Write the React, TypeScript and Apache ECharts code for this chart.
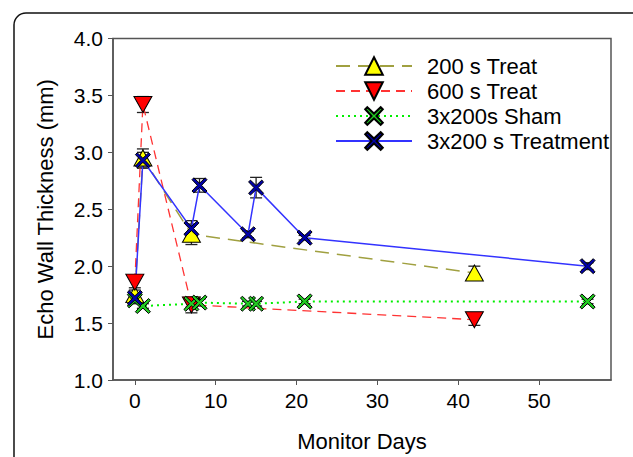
import React, { useEffect, useRef } from "react";
import * as echarts from "echarts";

const days200 = [0, 1, 7, 42];
const mean200 = [1.75, 2.95, 2.28, 1.94];
const se200 = [0.04, 0.08, 0.09, 0.06];

const days600 = [0, 1, 7, 42];
const mean600 = [1.86, 3.42, 1.66, 1.53];
const se600 = [0.05, 0.07, 0.07, 0.05];

const daysSham = [0, 1, 7, 8, 14, 15, 21, 56];
const meanSham = [1.7, 1.65, 1.67, 1.68, 1.67, 1.67, 1.69, 1.69];
const seSham = [0.03, 0.02, 0.03, 0.03, 0.02, 0.02, 0.02, 0.02];

const daysTx = [0, 1, 7, 8, 14, 15, 21, 56];
const meanTx = [1.72, 2.93, 2.33, 2.71, 2.28, 2.69, 2.25, 2.0];
const seTx = [0.04, 0.07, 0.07, 0.06, 0.03, 0.09, 0.02, 0.03];

const seriesNames = ["200 s Treat", "600 s Treat", "3x200s Sham", "3x200 s Treatment"];
const xTicks = [0, 10, 20, 30, 40, 50];

const FONT = "Liberation Sans, Arial, sans-serif";
const X_PATH =
  "path://M1.2,0 L5,3.6 L8.8,0 L10,1.2 L6.4,5 L10,8.8 L8.8,10 L5,6.4 L1.2,10 L0,8.8 L3.6,5 L0,1.2 Z";
const DOWN_TRI = "path://M0,0 L10,0 L5,9 Z";
const UP_TRI = "path://M5,0 L10,9 L0,9 Z";

function pairs(xs: number[], ys: number[]) {
  return xs.map((x, i) => [x, ys[i]]);
}

export default function App() {
  const ref = useRef<HTMLDivElement>(null);
  useEffect(() => {
    if (!ref.current) return;
    const chart = echarts.init(ref.current, undefined, { renderer: "svg" });

    const errData: number[][] = [];
    const addErr = (xs: number[], ys: number[], es: number[]) =>
      xs.forEach((x, i) => errData.push([x, ys[i] - es[i], ys[i] + es[i]]));
    addErr(days200, mean200, se200);
    addErr(days600, mean600, se600);
    addErr(daysSham, meanSham, seSham);
    addErr(daysTx, meanTx, seTx);

    const markerBorder = { borderColor: "#000", borderWidth: 1 };

    chart.setOption({
      animation: false,
      backgroundColor: "#fff",
      graphic: [
        {
          type: "rect",
          shape: { x: 14, y: 13, width: 660, height: 480, r: 12 },
          style: { fill: "none", stroke: "#111", lineWidth: 1.5 },
          z: 0,
        },
      ],
      grid: {
        left: 113,
        top: 38.5,
        right: 22,
        bottom: 71,
        show: true,
        borderColor: "#555",
        borderWidth: 1.5,
      },
      legend: {
        data: seriesNames,
        orient: "vertical",
        left: 330,
        top: 50,
        itemWidth: 76,
        itemHeight: 22,
        itemGap: 3,
        textStyle: {
          fontFamily: FONT,
          fontSize: 22,
          lineHeight: 22,
          color: "#000",
          padding: [0, 0, 0, 10],
        },
      },
      xAxis: {
        type: "value",
        min: -2.7,
        max: 58.9,
        name: "Monitor Days",
        nameLocation: "middle",
        nameGap: 50,
        nameTextStyle: { fontFamily: FONT, fontSize: 22, color: "#000" },
        axisLine: { show: true, onZero: false, lineStyle: { color: "#555", width: 1.5 } },
        axisTick: {
          show: true,
          length: 5,
          customValues: xTicks,
          lineStyle: { color: "#555" },
        },
        axisLabel: {
          customValues: xTicks,
          margin: 10,
          fontFamily: FONT,
          fontSize: 21,
          color: "#000",
        },
        splitLine: { show: false },
      },
      yAxis: {
        type: "value",
        min: 1,
        max: 4,
        interval: 0.5,
        name: "Echo Wall Thickness (mm)",
        nameLocation: "middle",
        nameGap: 57,
        nameTextStyle: { fontFamily: FONT, fontSize: 22, color: "#000" },
        axisLine: { show: true, onZero: false, lineStyle: { color: "#555", width: 1.5 } },
        axisTick: { show: true, length: 5, lineStyle: { color: "#555" } },
        axisLabel: {
          margin: 10,
          fontFamily: FONT,
          fontSize: 21,
          color: "#000",
          formatter: (v: number) => v.toFixed(1),
        },
        splitLine: { show: false },
      },
      series: [
        {
          type: "custom",
          name: "errors",
          z: 1,
          silent: true,
          data: errData,
          encode: { x: 0, y: [1, 2] },
          renderItem: (_params: any, api: any) => {
            const x = api.value(0);
            const lo = api.coord([x, api.value(1)]);
            const hi = api.coord([x, api.value(2)]);
            const w = 6;
            const st = { stroke: "#222", lineWidth: 1.3 };
            return {
              type: "group",
              children: [
                { type: "line", shape: { x1: lo[0], y1: lo[1], x2: hi[0], y2: hi[1] }, style: st },
                { type: "line", shape: { x1: lo[0] - w, y1: lo[1], x2: lo[0] + w, y2: lo[1] }, style: st },
                { type: "line", shape: { x1: hi[0] - w, y1: hi[1], x2: hi[0] + w, y2: hi[1] }, style: st },
              ],
            };
          },
        },
        {
          type: "line",
          name: seriesNames[0],
          z: 2,
          data: pairs(days200, mean200),
          symbol: UP_TRI,
          symbolSize: [18, 16],
          lineStyle: { color: "#a0a040", width: 1.5, type: [14, 8] },
          itemStyle: { color: "#ffff00", ...markerBorder },
        },
        {
          type: "line",
          name: seriesNames[1],
          z: 2,
          data: pairs(days600, mean600),
          symbol: DOWN_TRI,
          symbolSize: [18, 16],
          lineStyle: { color: "#ff3333", width: 1.3, type: [9, 6] },
          itemStyle: { color: "#ff0000", ...markerBorder },
        },
        {
          type: "line",
          name: seriesNames[2],
          z: 2,
          data: pairs(daysSham, meanSham),
          symbol: X_PATH,
          symbolSize: 15,
          lineStyle: { color: "#00ee00", width: 2, type: [2, 4] },
          itemStyle: { color: "#22cc22", ...markerBorder },
        },
        {
          type: "line",
          name: seriesNames[3],
          z: 2,
          data: pairs(daysTx, meanTx),
          symbol: X_PATH,
          symbolSize: 15,
          lineStyle: { color: "#3333ff", width: 1.5 },
          itemStyle: { color: "#0000aa", ...markerBorder },
        },
      ],
    });
    return () => chart.dispose();
  }, []);

  return (
    <div
      ref={ref}
      style={{ position: "fixed", left: 0, top: 0, width: 633, height: 457 }}
    />
  );
}
